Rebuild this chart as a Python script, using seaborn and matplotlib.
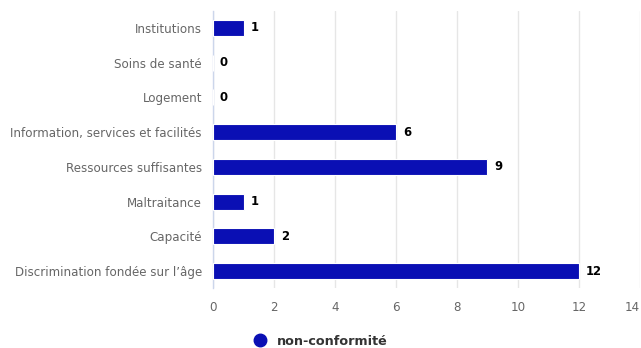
import matplotlib
matplotlib.use("Agg")
import matplotlib.pyplot as plt
from matplotlib.lines import Line2D
import seaborn as sns
import pandas as pd

categories = [
    "Institutions",
    "Soins de santé",
    "Logement",
    "Information, services et facilités",
    "Ressources suffisantes",
    "Maltraitance",
    "Capacité",
    "Discrimination fondée sur l’âge",
]
values = [1, 0, 0, 6, 9, 1, 2, 12]
series_name = "non-conformité"
x_ticks = [0, 2, 4, 6, 8, 10, 12, 14]

bar_color = "#0a0fb4"

sns.set_theme(style="white")
plt.rcParams["font.family"] = ["DejaVu Sans"]

df = pd.DataFrame({"categorie": categories, "valeur": values})

fig = plt.figure(figsize=(6.41, 3.48), dpi=100)
ax = fig.add_axes([0.3323, 0.1713, 0.6661, 0.7982])

sns.barplot(data=df, x="valeur", y="categorie", orient="h", color=bar_color,
            saturation=1, width=0.46, edgecolor="white", linewidth=0.8, ax=ax, zorder=3)

ax.set_xlim(0, 14)
ax.set_xticks(x_ticks)
ax.set_xticklabels([str(t) for t in x_ticks])
ax.grid(axis="x", color="#e6e6e6", linewidth=1, zorder=0)
ax.set_axisbelow(True)
for side in ["top", "right", "bottom"]:
    ax.spines[side].set_visible(False)
ax.spines["left"].set_color("#ccd6eb")
ax.spines["left"].set_linewidth(1)
ax.set_xlabel("")
ax.set_ylabel("")
ax.tick_params(axis="x", length=0, pad=9, labelsize=8.6, labelcolor="#666666")
ax.tick_params(axis="y", length=0, pad=8, labelsize=8.6, labelcolor="#666666")

# keep the last tick label inside the figure
last = ax.get_xticklabels()[-1]
last.set_horizontalalignment("right")
last.set_x(14)

for i, v in enumerate(values):
    ax.annotate(str(v), xy=(v, i), xytext=(5, 0), textcoords="offset points",
                ha="left", va="center", fontsize=8.4, fontweight="bold", color="#000000")

handle = Line2D([], [], marker="o", linestyle="", markersize=9,
                markerfacecolor=bar_color, markeredgecolor=bar_color)
fig.legend([handle], [series_name], loc="center", bbox_to_anchor=(0.495, 0.02),
           frameon=False, prop={"size": 9.2, "weight": "bold"}, labelcolor="#333333",
           handletextpad=0.3, borderaxespad=0)

fig.savefig("out.png", dpi=100)
